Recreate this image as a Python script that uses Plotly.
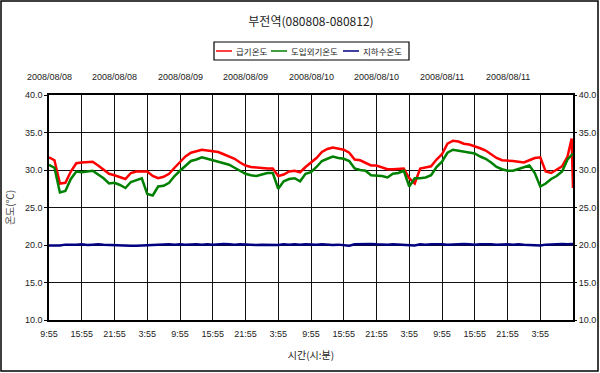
import plotly.graph_objects as go
import pandas as pd

# ---------------- data (hourly readings from 2008-08-08 09:55) ----------------
start_time = "2008-08-08 09:55"
hours = list(range(97))

supply_temp = [  # 급기온도
    31.7, 31.3, 28.2, 28.3, 29.8, 30.9, 31.0, 31.0, 31.1, 30.6,
    30.0, 29.5, 29.3, 29.1, 28.8, 29.6, 29.8, 29.8, 29.8, 29.2,
    28.9, 29.1, 29.5, 30.3, 31.1, 31.8, 32.3, 32.5, 32.7, 32.6,
    32.5, 32.4, 32.1, 31.8, 31.5, 31.0, 30.6, 30.4, 30.3, 30.3,
    30.2, 30.2, 29.2, 29.4, 29.8, 29.9, 29.7, 30.4, 31.0, 31.6,
    32.4, 32.8, 33.0, 32.8, 32.7, 32.3, 31.4, 31.3, 31.0, 30.6,
    30.6, 30.3, 30.1, 30.1, 30.1, 30.2, 28.9, 28.2, 30.2, 30.3,
    30.5, 31.4, 32.1, 33.5, 33.9, 33.8, 33.5, 33.4, 33.2, 32.9,
    32.6, 32.1, 31.6, 31.3, 31.3, 31.2, 31.1, 31.0, 31.3, 31.6,
    31.7, 29.8, 29.6, 30.1, 30.5, 31.8, 27.6,
]
supply_spike_hour = 95.75
supply_spike_value = 34.2

outdoor_temp = [  # 도입외기온도
    30.7, 30.3, 27.0, 27.2, 28.8, 29.8, 29.7, 29.8, 29.9, 29.4,
    28.9, 28.2, 28.3, 28.0, 27.6, 28.4, 28.6, 28.9, 26.8, 26.6,
    27.8, 27.9, 28.3, 29.2, 29.9, 30.6, 31.2, 31.4, 31.7, 31.5,
    31.3, 31.2, 31.0, 30.7, 30.3, 29.9, 29.5, 29.3, 29.2, 29.4,
    29.6, 29.6, 27.5, 28.5, 28.8, 28.9, 28.5, 29.5, 29.7, 30.4,
    31.2, 31.5, 31.8, 31.6, 31.5, 31.2, 30.2, 30.0, 29.9, 29.3,
    29.3, 29.2, 29.0, 29.5, 29.6, 29.9, 27.8, 28.9, 28.9, 29.0,
    29.3, 30.4, 31.1, 32.3, 32.7, 32.6, 32.4, 32.3, 32.2, 31.8,
    31.5, 31.0, 30.4, 30.1, 29.9, 29.9, 30.1, 30.3, 30.6, 29.6,
    27.8, 28.2, 28.8, 29.2, 29.8, 31.4, 32.2,
]

ground_temp = [  # 지하수온도
    19.95, 19.9, 19.95,
    20.05, 20.0, 20.05, 20.1, 20.0, 20.05, 20.1, 20.05, 20.0, 20.05, 20.0, 19.95,
    19.9, 19.9, 19.95, 19.9, 19.95, 20.0,
    20.05, 20.1, 20.05, 20.1, 20.05, 20.1, 20.1, 20.05, 20.1, 20.05, 20.1, 20.15,
    20.1, 20.05, 20.1, 20.05,
    20.0, 20.0, 20.05, 20.0, 20.05, 20.0,
    20.1, 20.05, 20.1, 20.05, 20.1, 20.05,
    20.05, 20.1, 20.05, 20.0, 20.05, 20.0,
    19.9,
    20.1, 20.15, 20.1, 20.15, 20.1,
    20.05, 20.05, 20.1, 20.05, 20.0,
    19.95, 19.95,
    20.1, 20.05, 20.1, 20.15, 20.1, 20.05, 20.1, 20.1, 20.15, 20.1, 20.05,
    20.1, 20.15, 20.1, 20.05, 20.1, 20.1, 20.05, 20.1, 20.05, 20.0,
    19.95, 19.95,
    20.05, 20.1, 20.1, 20.15, 20.1, 20.15,
]

series_names = ["급기온도", "도입외기온도", "지하수온도"]
series_colors = ["#FF0000", "#008000", "#000080"]

bottom_tick_hours = [0, 6, 12, 18, 24, 30, 36, 42, 48, 54, 60, 66, 72, 78, 84, 90, 96]
bottom_tick_labels = ["9:55", "15:55", "21:55", "3:55", "9:55", "15:55", "21:55", "3:55",
                      "9:55", "15:55", "21:55", "3:55", "9:55", "15:55", "21:55", "3:55", ""]
top_date_hours = [0, 12, 24, 36, 48, 60, 72, 84]
top_date_labels = ["2008/08/08", "2008/08/08", "2008/08/09", "2008/08/09",
                   "2008/08/10", "2008/08/10", "2008/08/11", "2008/08/11"]

title_text = "부전역(080808-080812)"
x_title = "시간(시:분)"
y_title = "온도(℃)"

# ---------------- build ----------------
t0 = pd.Timestamp(start_time)
def at(h):
    return t0 + pd.Timedelta(hours=h)

times = [at(h) for h in hours]
supply_hours = hours[:-1] + [supply_spike_hour] + hours[-1:]
supply_vals = supply_temp[:-1] + [supply_spike_value] + supply_temp[-1:]
supply_times = [at(h) for h in supply_hours]

LAT = "Liberation Sans, Arial, Noto Sans CJK KR, sans-serif"
KR = "Noto Sans CJK KR, Liberation Sans, sans-serif"
TXT = "#222222"

W, H = 600, 373
L, R, T, B = 49, 27, 95, 53
pw, ph = W - L - R, H - T - B

def px_x(px):
    return (px - L) / pw

def px_y(py):
    return (H - B - py) / ph

fig = go.Figure()
fig.add_trace(go.Scatter(x=supply_times, y=supply_vals, mode="lines", name=series_names[0],
                         line=dict(color=series_colors[0], width=2.5), showlegend=False))
fig.add_trace(go.Scatter(x=times, y=outdoor_temp, mode="lines", name=series_names[1],
                         line=dict(color=series_colors[1], width=2.5), showlegend=False))
fig.add_trace(go.Scatter(x=times, y=ground_temp, mode="lines", name=series_names[2],
                         line=dict(color=series_colors[2], width=2.5), showlegend=False))
# dummy trace to show the right-hand y axis
fig.add_trace(go.Scatter(x=[times[0]], y=[None], yaxis="y2", showlegend=False,
                         hoverinfo="skip", mode="lines"))

fig.update_layout(
    width=W, height=H,
    margin=dict(l=L, r=R, t=T, b=B, autoexpand=False),
    paper_bgcolor="white", plot_bgcolor="white",
    font=dict(family=LAT, size=9, color=TXT),
    title=dict(text=title_text, x=(L + pw / 2) / W, xanchor="center",
               y=1 - 22 / H, yanchor="middle", automargin=False,
               font=dict(family=KR, size=12, color=TXT)),
    showlegend=False,
    xaxis=dict(
        type="date", range=[at(0), at(96)], automargin=False,
        tickmode="array", tickvals=[at(h) for h in bottom_tick_hours],
        ticktext=bottom_tick_labels, ticklabelstandoff=4,
        showgrid=True, gridcolor="#111111", gridwidth=1,
        showline=True, linecolor="#000000", linewidth=1.5, mirror=True,
        ticks="", tickfont=dict(family=LAT, size=9, color=TXT),
        title=dict(text=x_title, font=dict(family=KR, size=10, color=TXT), standoff=14),
        zeroline=False,
    ),
    yaxis=dict(
        range=[10, 40], dtick=5, tick0=10, tickformat=".1f", automargin=False,
        showgrid=True, gridcolor="#111111", gridwidth=1,
        showline=True, linecolor="#000000", linewidth=1.5, mirror=True,
        ticks="outside", ticklen=3, tickcolor="#000000",
        tickfont=dict(family=LAT, size=9, color=TXT),
        title=dict(text=y_title, font=dict(family=KR, size=10, color="#444444"), standoff=8),
        zeroline=False,
    ),
    yaxis2=dict(
        range=[10, 40], dtick=5, tick0=10, tickformat=".1f", overlaying="y", side="right",
        automargin=False,
        showgrid=False, ticks="outside", ticklen=3, tickcolor="#000000",
        tickfont=dict(family=LAT, size=9, color=TXT), zeroline=False,
    ),
)

for h, lab in zip(top_date_hours, top_date_labels):
    fig.add_annotation(x=at(h), y=px_y(77), xref="x", yref="paper",
                       text=lab, showarrow=False, xanchor="center", yanchor="middle",
                       font=dict(family=LAT, size=9, color=TXT))

# legend drawn as a framed box above the plot
leg_y = 51
fig.add_shape(type="rect", xref="paper", yref="paper",
              x0=px_x(214), x1=px_x(409), y0=px_y(60), y1=px_y(42),
              line=dict(color="#000000", width=1.2), fillcolor="white")
leg_starts = [216, 271, 343]
for name, color, sx in zip(series_names, series_colors, leg_starts):
    fig.add_shape(type="line", xref="paper", yref="paper",
                  x0=px_x(sx), x1=px_x(sx + 16), y0=px_y(leg_y), y1=px_y(leg_y),
                  line=dict(color=color, width=1.5))
    fig.add_annotation(x=px_x(sx + 18), y=px_y(leg_y), xref="paper", yref="paper",
                       text=name, showarrow=False, xanchor="left", yanchor="middle",
                       font=dict(family=KR, size=8.5, color=TXT))

# outer frame around the whole picture
fig.add_shape(type="rect", xref="paper", yref="paper",
              x0=px_x(1), x1=px_x(W - 2), y0=px_y(H - 2), y1=px_y(1),
              line=dict(color="#000000", width=1.5), fillcolor="rgba(0,0,0,0)", layer="below")

fig.write_html(
    "out.html",
    config={"displayModeBar": False},
    post_script=("document.documentElement.style.margin='0px';"
                 "document.documentElement.style.overflow='hidden';"
                 "document.body.style.margin='0px';"
                 "document.body.style.overflow='hidden';"),
)
